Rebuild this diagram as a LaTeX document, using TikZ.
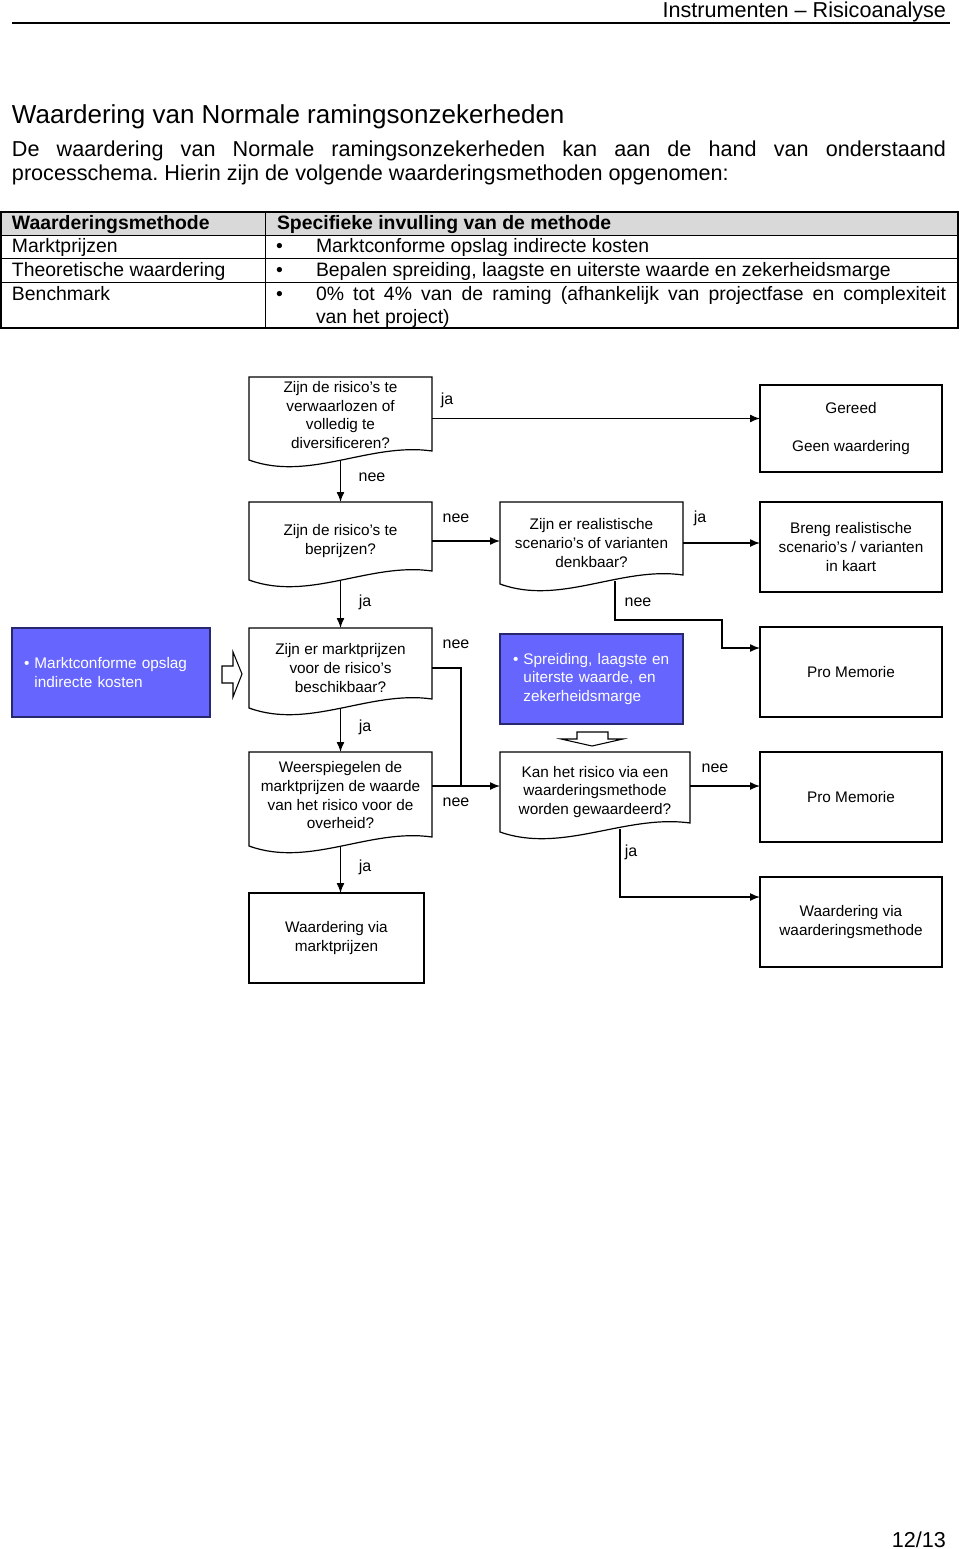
\documentclass[tikz,border=0pt]{standalone}
\usepackage{fontspec}
\setmainfont{Liberation Sans}
\usetikzlibrary{calc,arrows.meta}
\definecolor{blueboxfill}{RGB}{102,102,255}
\definecolor{blueboxline}{RGB}{40,40,110}
\definecolor{hdrgrey}{RGB}{217,217,217}
\frenchspacing
\newcommand\fs[2]{\fontsize{#1}{#2}\selectfont}
\newcommand\docpath[1]{\draw[docline] (#1.south west) -- (#1.north west) -- (#1.north east) -- ($(#1.south east)+(0,-9)$) .. controls ($(#1.south west)!0.66!(#1.south east)+(0,-18)$) and ($(#1.south west)!0.33!(#1.south east)+(0,22)$) .. (#1.south west) -- cycle;}
\begin{document}
\begin{tikzpicture}[x=0.75pt,y=-0.75pt,
  every node/.style={inner sep=0pt, outer sep=0pt},
  fc/.style={font=\fs{11.5pt}{13.95pt}, align=center},
  boxnode/.style={fc, draw, line width=0.9pt, minimum width=136.5pt, minimum height=67.5pt},
  docnode/.style={fc, minimum width=137.25pt},
  docline/.style={line width=0.9pt},
  bluebox/.style={fc, align=left, draw=blueboxline, line width=0.9pt, fill=blueboxfill, text=white},
  lbl/.style={font=\fs{12pt}{14pt}},
  conn/.style={line width=1.05pt},
  arr/.style={conn, -{Latex[length=7.5pt,width=6pt]}},
  hollow/.style={line width=0.8pt, fill=white},
  tbl/.style={font=\fs{14.55pt}{17pt}, anchor=base west},
]
\useasboundingbox (0,0) rectangle (960,1549);
% header
\node[anchor=base east, font=\fs{16.2pt}{19pt}] (hdr) at (946,17) {Instrumenten – Risicoanalyse};
\draw[line width=1.1pt] (12,23) -- (950,23);
% title and body
\node[anchor=base west, font=\fs{19.5pt}{23pt}] (title) at (12,123) {Waardering van Normale ramingsonzekerheden};
\node[anchor=base west, font=\fs{16.2pt}{19pt}] (body1) at (12,156) {\makebox[700.5pt][s]{De waardering van Normale ramingsonzekerheden kan aan de hand van onderstaand}};
\node[anchor=base west, font=\fs{16.2pt}{19pt}] (body2) at (12,180) {processchema. Hierin zijn de volgende waarderingsmethoden opgenomen:};
% table
\fill[hdrgrey] (1,212) rectangle (958,235);
\draw[line width=0.75pt] (1,235) -- (958,235) (1,258) -- (958,258) (1,282) -- (958,282) (265,212) -- (265,328);
\draw[line width=1.2pt] (1,212) rectangle (958,328);
\node[tbl, font=\fs{14.55pt}{17pt}\bfseries] (th1) at (12,229.5) {Waarderingsmethode};
\node[tbl, font=\fs{14.55pt}{17pt}\bfseries] (th2) at (277,229.5) {Specifieke invulling van de methode};
\node[tbl] (r1a) at (12,252.5) {Marktprijzen};
\node[tbl] (r1b) at (276,252.5) {•};
\node[tbl] (r1c) at (316,252.5) {Marktconforme opslag indirecte kosten};
\node[tbl] (r2a) at (12,276) {Theoretische waardering};
\node[tbl] (r2b) at (276,276) {•};
\node[tbl] (r2c) at (316,276) {Bepalen spreiding, laagste en uiterste waarde en zekerheidsmarge};
\node[tbl] (r3a) at (12,300) {Benchmark};
\node[tbl] (r3b) at (276,300) {•};
\node[tbl] (r3c) at (316,300) {\makebox[472.5pt][s]{0\% tot 4\% van de raming (afhankelijk van projectfase en complexiteit}};
\node[tbl] (r3d) at (316,323) {van het project)};
% flowchart nodes
\node[docnode, minimum height=62.25pt, text depth=5.5pt] (q1) at (340.5,418.5) {Zijn de risico’s te\\verwaarlozen of\\volledig te\\diversificeren?};
\docpath{q1}
\node[boxnode, minimum height=65.25pt] (gereed) at (851,428.5) {Gereed\\[13.95pt]Geen waardering};
\node[docnode, minimum height=58.5pt] (q2) at (340.5,541) {Zijn de risico’s te\\beprijzen?};
\docpath{q2}
\node[docnode, minimum height=61.5pt] (q3) at (591.5,543) {Zijn er realistische\\scenario’s of varianten\\denkbaar?};
\docpath{q3}
\node[boxnode] (breng) at (851,547) {Breng realistische\\scenario’s / varianten\\in kaart};
\node[boxnode] (pm1) at (851,672) {Pro Memorie};
\node[bluebox, text width=130.5pt, inner xsep=9pt, minimum height=66.75pt] (b1) at (111,672.5) {• Marktconforme opslag\\\hphantom{• }indirecte kosten};
\node[docnode, minimum height=60pt] (q4) at (340.5,668) {Zijn er marktprijzen\\voor de risico’s\\beschikbaar?};
\docpath{q4}
\node[bluebox, text width=117.75pt, inner xsep=9.75pt, minimum height=67.5pt] (b2) at (591.5,679) {• Spreiding, laagste en\\\hphantom{• }uiterste waarde, en\\\hphantom{• }zekerheidsmarge};
\node[docnode, minimum height=70.5pt, text depth=5.5pt] (q5) at (340.5,799) {Weerspiegelen de\\marktprijzen de waarde\\van het risico voor de\\overheid?};
\docpath{q5}
\node[docnode, minimum width=142.5pt, minimum height=60pt] (q6) at (595,792) {Kan het risico via een\\waarderingsmethode\\worden gewaardeerd?};
\docpath{q6}
\node[boxnode] (pm2) at (851,797) {Pro Memorie};
\node[boxnode, minimum width=131.25pt] (wvp) at (336.5,938) {Waardering via\\marktprijzen};
\node[boxnode] (wvm) at (851,922) {Waardering via\\waarderingsmethode};
% hollow block arrows
\draw[hollow] (222,666) -- (233,666) -- (233,652) -- (242,674) -- (233,697) -- (233,683) -- (222,683) -- cycle;
\draw[hollow] (577,732) -- (608,732) -- (608,739) -- (623,739) -- (592,746) -- (561,739) -- (577,739) -- cycle;
% helper coordinates
\coordinate (j) at (461,786);
\coordinate (q3s) at ($(q3.south)+(23.5,-3)$);
\coordinate (c3a) at (615,620);
\coordinate (c3b) at (722,648);
\coordinate (q6s) at ($(q6.south)+(25,-3)$);
\coordinate (c6) at (620,897);
% connectors
\draw[arr] (q1.east) -- (q1.east -| gereed.west);
\draw[arr] (q1.south) -- (q2.north);
\draw[arr] (q2.east) -- (q2.east -| q3.west);
\draw[arr] (q3.east) -- (q3.east -| breng.west);
\draw[arr] (q3s) -- (c3a) -- (c3a -| c3b) -- (c3b) -- (c3b -| pm1.west);
\draw[arr] (q2.south) -- (q4.north);
\draw[conn] (q4.east) -- (q4.east -| j) -- (j);
\draw[arr] (q4.south) -- (q5.north);
\draw[arr] (q5.east |- j) -- (q6.west |- j);
\draw[arr] (q6.east |- j) -- (pm2.west |- j);
\draw[arr] (q5.south) -- (q5.south |- wvp.north);
\draw[arr] (q6s) -- (c6) -- (c6 -| wvm.west);
% labels
\node[lbl] (l1) at (447,400) {ja};
\node[lbl] (l2) at (372,477) {nee};
\node[lbl] (l3) at (456,518) {nee};
\node[lbl] (l4) at (700,518) {ja};
\node[lbl] (l5) at (365,602) {ja};
\node[lbl] (l6) at (638,602) {nee};
\node[lbl] (l7) at (456,644) {nee};
\node[lbl] (l8) at (365,727) {ja};
\node[lbl] (l9) at (456,802) {nee};
\node[lbl] (l10) at (715,768) {nee};
\node[lbl] (l11) at (365,867) {ja};
\node[lbl] (l12) at (631,852) {ja};
% page number
\node[anchor=base east, font=\fs{16.2pt}{19pt}] (pg) at (946,1547) {12/13};
\end{tikzpicture}
\end{document}
